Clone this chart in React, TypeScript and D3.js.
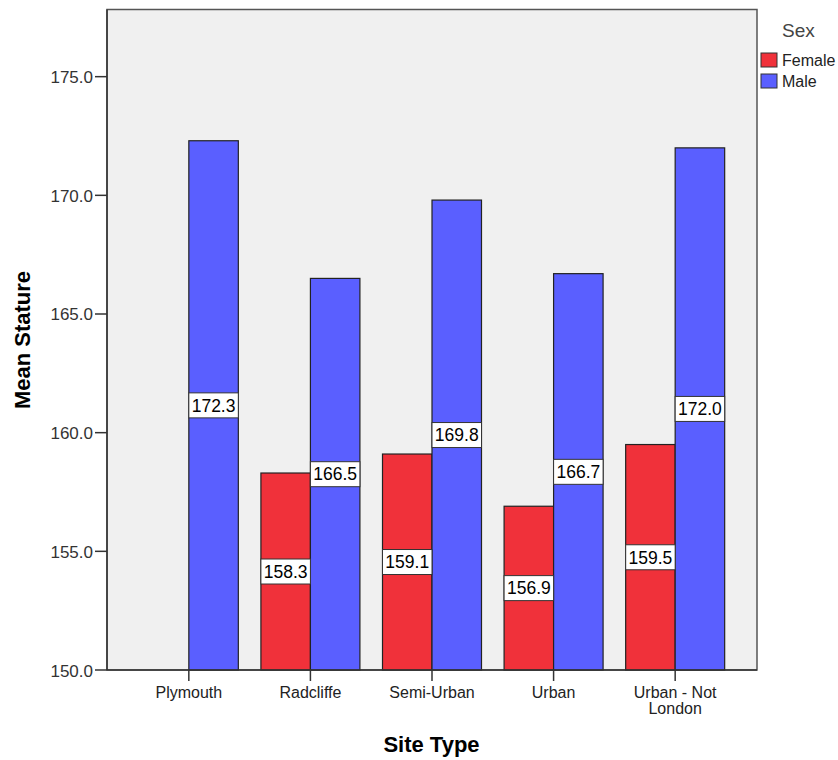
import React from "react";
import * as d3 from "d3";

const categories = ["Plymouth", "Radcliffe", "Semi-Urban", "Urban", "Urban - Not London"];
const sexes = ["Female", "Male"];
const femaleValues: (number | null)[] = [null, 158.3, 159.1, 156.9, 159.5];
const maleValues: number[] = [172.3, 166.5, 169.8, 166.7, 172.0];
const yTicks = [150, 155, 160, 165, 170, 175];
const colors: Record<string, string> = { Female: "#F0313A", Male: "#5A5FFF" };

const W = 838, H = 760;
const plot = { left: 107, right: 757, top: 9.5, bottom: 670 };

export default function App() {
  const y = d3.scaleLinear().domain([150, 177.83]).range([plot.bottom, plot.top]);
  const x = d3.scaleBand<string>().domain(categories).range([plot.left, plot.right]).paddingInner(0).paddingOuter(0.173);
  const groupW = 99;
  const xs = d3.scaleBand<string>().domain(sexes).range([0, groupW]).padding(0);
  const bars: { cat: string; sex: string; v: number }[] = [];
  categories.forEach((c, i) => {
    if (femaleValues[i] != null) bars.push({ cat: c, sex: "Female", v: femaleValues[i] as number });
    bars.push({ cat: c, sex: "Male", v: maleValues[i] });
  });
  const cx = (c: string) => (x(c) as number) + x.bandwidth() / 2;
  const font = "Arial, 'Liberation Sans', sans-serif";
  return (
    <svg width={W} height={H} style={{ position: "absolute", left: 0, top: 0, fontFamily: font }}>
      <rect x={0} y={0} width={W} height={H} fill="#fff" />
      <rect x={plot.left} y={plot.top} width={plot.right - plot.left} height={plot.bottom - plot.top} fill="#F0F0F0" stroke="#555" strokeWidth={1.5} />
      {bars.map((b, i) => {
        const bx = cx(b.cat) - groupW / 2 + (xs(b.sex) as number);
        const top = y(b.v);
        return (
          <rect key={i} x={bx} y={top} width={xs.bandwidth()} height={y(150) - top} fill={colors[b.sex]} stroke="#222" strokeWidth={1.2} />
        );
      })}
      {bars.map((b, i) => {
        const bx = cx(b.cat) - groupW / 2 + (xs(b.sex) as number);
        const mid = (y(b.v) + y(150)) / 2;
        return (
          <g key={"l" + i}>
            <rect x={bx} y={mid - 12.5} width={xs.bandwidth()} height={25} fill="#fff" stroke="#333" strokeWidth={1} />
            <text x={bx + xs.bandwidth() / 2} y={mid + 6.3} textAnchor="middle" fontSize={17.5} fill="#000">{b.v.toFixed(1)}</text>
          </g>
        );
      })}
      {/* y axis */}
      <line x1={plot.left} x2={plot.left} y1={plot.top} y2={plot.bottom} stroke="#333" strokeWidth={1.5} />
      {yTicks.map((t) => (
        <g key={t}>
          <line x1={95} x2={plot.left} y1={y(t)} y2={y(t)} stroke="#333" strokeWidth={1.5} />
          <text x={93} y={y(t) + 6.5} textAnchor="end" fontSize={17} fill="#333">{t.toFixed(1)}</text>
        </g>
      ))}
      {/* x axis */}
      <line x1={plot.left} x2={plot.right} y1={plot.bottom} y2={plot.bottom} stroke="#333" strokeWidth={1.5} />
      {categories.map((c) => {
        const lines = c === "Urban - Not London" ? ["Urban - Not", "London"] : [c];
        return (
          <g key={c}>
            <line x1={cx(c)} x2={cx(c)} y1={plot.bottom} y2={plot.bottom + 11} stroke="#333" strokeWidth={1.5} />
            {lines.map((ln, j) => (
              <text key={j} x={cx(c)} y={698 + j * 16} textAnchor="middle" fontSize={16} fill="#222">{ln}</text>
            ))}
          </g>
        );
      })}
      <text x={431.5} y={752} textAnchor="middle" fontSize={22} fontWeight="bold" fill="#000">Site Type</text>
      <text transform={`translate(30,340) rotate(-90)`} textAnchor="middle" fontSize={22} fontWeight="bold" fill="#000">Mean Stature</text>
      {/* legend */}
      <text x={782} y={37} fontSize={19} fill="#444">Sex</text>
      {sexes.map((s, i) => (
        <g key={s}>
          <rect x={761} y={53 + i * 21} width={16} height={14} fill={colors[s]} stroke="#333" strokeWidth={1} />
          <text x={782} y={66 + i * 21} fontSize={16} fill="#222">{s}</text>
        </g>
      ))}
    </svg>
  );
}
